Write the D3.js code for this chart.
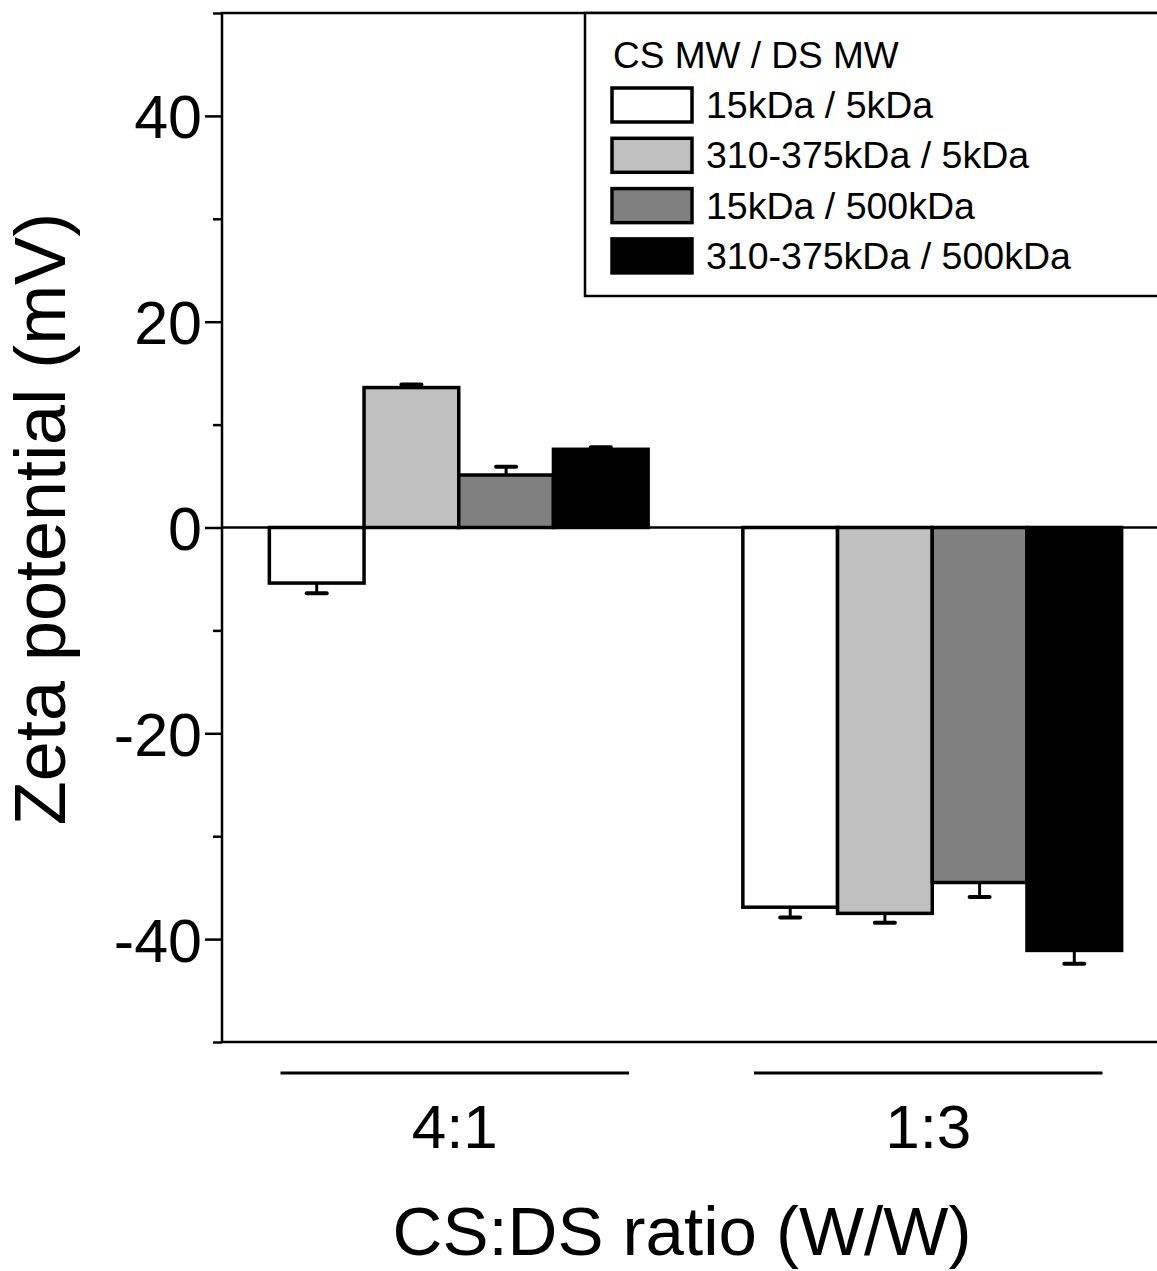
<!DOCTYPE html>
<html>
<head>
<meta charset="utf-8">
<script src="https://cdn.jsdelivr.net/npm/d3@7"></script>
<style>
  body { margin: 0; background: #fff; }
  text { font-family: "Liberation Sans", Arial, sans-serif; fill: #000; }
</style>
</head>
<body>
<script>
var width = 1157,
    height = 1271,
    margin = {top: 13, right: -12, bottom: 229, left: 222};

// data
var categories = ["4:1", "1:3"];
var series = ["15kDa / 5kDa", "310-375kDa / 5kDa", "15kDa / 500kDa", "310-375kDa / 500kDa"];
var colors = ["#ffffff", "#c0c0c0", "#808080", "#000000"];
var values = [
    [-5.4, 13.6, 5.1, 7.6],     // 4:1
    [-36.9, -37.5, -34.5, -41.1] // 1:3
];
var errors = [
    [1.0, 0.3, 0.8, 0.2],
    [1.0, 0.9, 1.4, 1.3]
];
var majorTicks = [-40, -20, 0, 20, 40];
var minorTicks = [-50, -30, -10, 10, 30, 50];

var svg = d3.select("body").append("svg")
    .attr("width", width)
    .attr("height", height);

var x0 = d3.scaleBand()
    .domain(categories)
    .range([margin.left, width - margin.right])
    .paddingInner(0.2)
    .paddingOuter(0.1);

var x1 = d3.scaleBand()
    .domain(series)
    .range([0, x0.bandwidth()])
    .padding(0);

var y = d3.scaleLinear()
    .domain([-50, 50])
    .range([height - margin.bottom, margin.top]);

var color = d3.scaleOrdinal().domain(series).range(colors);

// frame
svg.append("rect")
    .attr("x", margin.left)
    .attr("y", y(50))
    .attr("width", width - margin.right - margin.left)
    .attr("height", y(-50) - y(50))
    .attr("fill", "none")
    .attr("stroke", "#000")
    .attr("stroke-width", 2.5);

// y axis
var yAxis = svg.append("g")
    .attr("transform", "translate(" + margin.left + ",0)")
    .call(d3.axisLeft(y).tickValues(majorTicks).tickSize(17).tickPadding(3)
        .tickFormat(function(d) { return String(d); }));
yAxis.select(".domain").remove();
yAxis.selectAll(".tick line").attr("stroke-width", 2.5);
yAxis.selectAll(".tick text")
    .style("font-family", "Liberation Sans, Arial, sans-serif")
    .style("font-size", "61px")
    .attr("dy", "0.36em");

var yMinor = svg.append("g")
    .attr("transform", "translate(" + margin.left + ",0)")
    .call(d3.axisLeft(y).tickValues(minorTicks).tickSize(9).tickFormat(""));
yMinor.select(".domain").remove();
yMinor.selectAll(".tick line").attr("stroke-width", 2.5);

// bars
var groups = svg.selectAll(".group")
    .data(categories)
    .join("g")
    .attr("class", "group")
    .attr("transform", function(d) { return "translate(" + x0(d) + ",0)"; });

var bars = groups.selectAll(".bar")
    .data(function(d, i) {
        return series.map(function(s, j) {
            return {series: s, value: values[i][j], err: errors[i][j]};
        });
    })
    .join("g")
    .attr("class", "bar");

bars.append("rect")
    .attr("x", function(d) { return x1(d.series); })
    .attr("y", function(d) { return y(Math.max(0, d.value)); })
    .attr("width", x1.bandwidth())
    .attr("height", function(d) { return Math.abs(y(d.value) - y(0)); })
    .attr("fill", function(d) { return color(d.series); })
    .attr("stroke", "#000")
    .attr("stroke-width", 3.5);

// error bars (outward side only)
function errEnd(d) { return y(d.value + (d.value < 0 ? -d.err : d.err)); }

bars.append("line")
    .attr("x1", function(d) { return x1(d.series) + x1.bandwidth() / 2; })
    .attr("x2", function(d) { return x1(d.series) + x1.bandwidth() / 2; })
    .attr("y1", function(d) { return y(d.value); })
    .attr("y2", errEnd)
    .attr("stroke", "#000")
    .attr("stroke-width", 3);

bars.append("line")
    .attr("x1", function(d) { return x1(d.series) + x1.bandwidth() / 2 - 10; })
    .attr("x2", function(d) { return x1(d.series) + x1.bandwidth() / 2 + 10; })
    .attr("y1", errEnd)
    .attr("y2", errEnd)
    .attr("stroke", "#000")
    .attr("stroke-width", 4)
    .attr("stroke-linecap", "round");

// zero line
svg.append("line")
    .attr("x1", margin.left)
    .attr("x2", width - margin.right)
    .attr("y1", y(0))
    .attr("y2", y(0))
    .attr("stroke", "#000")
    .attr("stroke-width", 2.5);

// category underlines and labels
groups.append("line")
    .attr("x1", x0.bandwidth() / 2 - 4 - x0.bandwidth() * 0.46)
    .attr("x2", x0.bandwidth() / 2 - 4 + x0.bandwidth() * 0.46)
    .attr("y1", y(-50) + 31)
    .attr("y2", y(-50) + 31)
    .attr("stroke", "#000")
    .attr("stroke-width", 3);

groups.append("text")
    .attr("x", x0.bandwidth() / 2 - 4)
    .attr("y", y(-50) + 106)
    .attr("text-anchor", "middle")
    .style("font-size", "62px")
    .text(function(d) { return d; });

// axis titles
svg.append("text")
    .attr("x", 682)
    .attr("y", 1255)
    .attr("text-anchor", "middle")
    .style("font-size", "69px")
    .text("CS:DS ratio (W/W)");

svg.append("text")
    .attr("transform", "translate(65," + 519 + ") rotate(-90)")
    .attr("text-anchor", "middle")
    .style("font-size", "72px")
    .text("Zeta potential (mV)");

// legend
var legend = svg.append("g");
legend.append("rect")
    .attr("x", 585)
    .attr("y", y(50))
    .attr("width", 600)
    .attr("height", 283)
    .attr("fill", "#fff")
    .attr("stroke", "#000")
    .attr("stroke-width", 2.5);

legend.append("text")
    .attr("x", 613)
    .attr("y", 68)
    .style("font-size", "37px")
    .text("CS MW / DS MW");

var items = legend.selectAll(".item")
    .data(series)
    .join("g")
    .attr("class", "item")
    .attr("transform", function(d, i) { return "translate(0," + (i * 50.3) + ")"; });

items.append("rect")
    .attr("x", 612)
    .attr("y", 88)
    .attr("width", 80)
    .attr("height", 34)
    .attr("fill", function(d) { return color(d); })
    .attr("stroke", "#000")
    .attr("stroke-width", 3.5);

items.append("text")
    .attr("x", 706)
    .attr("y", 118)
    .style("font-size", "37.5px")
    .text(function(d) { return d; });
</script>
</body>
</html>
